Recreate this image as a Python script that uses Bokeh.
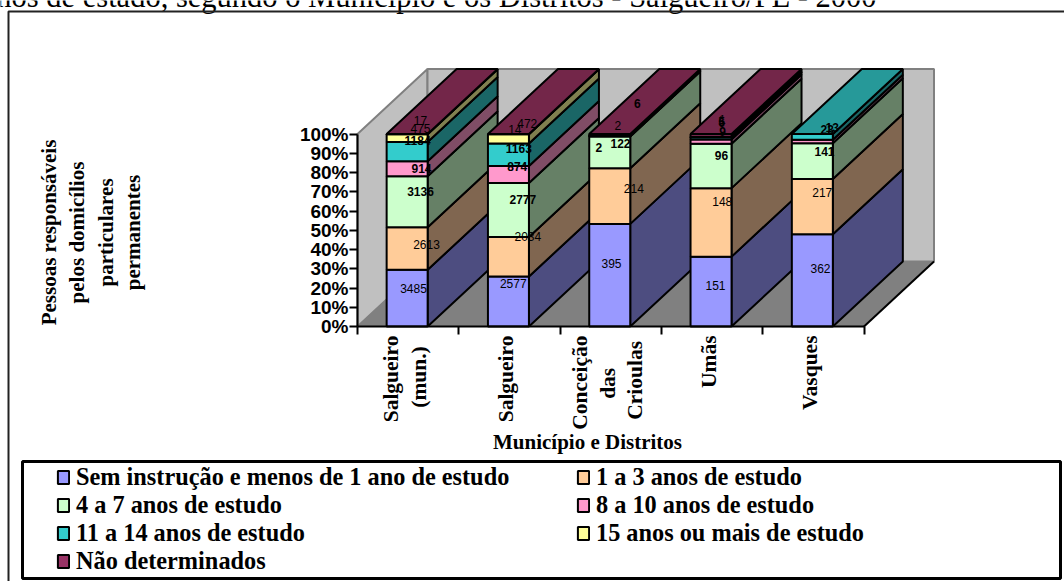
import math
from bokeh.plotting import figure
from bokeh.embed import file_html
from bokeh.resources import INLINE
from bokeh.models import (ColumnDataSource, Range1d, LinearAxis, FixedTicker, Label, Legend,
                          LegendItem, BoxAnnotation)

# ---- data
categories = ["Salgueiro\n(mun.)", "Salgueiro", "Conceição\ndas\nCrioulas", "Umãs", "Vasques"]
series_names = ["Sem instrução e menos de 1 ano de estudo", "1 a 3 anos de estudo", "4 a 7 anos de estudo",
                "8 a 10 anos de estudo", "11 a 14 anos de estudo", "15 anos ou mais de estudo", "Não determinados"]
sem_instrucao = [3485, 2577, 395, 151, 362]
anos_1_3 = [2613, 2034, 214, 148, 217]
anos_4_7 = [3136, 2777, 122, 96, 141]
anos_8_10 = [914, 874, 2, 9, 13]
anos_11_14 = [1184, 1163, 0, 5, 23]
anos_15 = [475, 472, 2, 1, 0]
nao_det = [17, 14, 6, 6, 0]
series = [sem_instrucao, anos_1_3, anos_4_7, anos_8_10, anos_11_14, anos_15, nao_det]
y_ticks = list(range(0, 101, 10))

# ---- styles
front = ["#9999FF", "#FFCC99", "#CCFFCC", "#FF99CC", "#33CCCC", "#FFFF99", "#993366"]
side = ["#4D4D80", "#806650", "#668066", "#804D66", "#1A6666", "#808050", "#4D1A33"]
top = ["#7373BF", "#BF9973", "#99BF99", "#BF7399", "#269999", "#BFBF73", "#732649"]
SERIF, SANS = "Liberation Serif", "Liberation Sans"
W, H = 1064, 581
X0, UNIT = 357.0, 101.3          # px of first tick, px per category
Y0, PCT = 326.0, 1.925           # px of 0 %, px per percent
DX, DY = 70 / UNIT, 65 / PCT     # 3-D depth in data units
BAR_W, BAR_C = 41 / UNIT, 0.49
NB = "\u00a0"

# label nudges in px from the middle of each segment (series -> bar)
nudge = [
    [(6.4, -9.6), (4.8, -17.7), (1.8, -11.4), (4.5, -6), (8.2, -11.6)],
    [(19.4, -4), (19.4, -20.5), (24.1, -7.9), (11.2, -21), (9.9, -14.6)],
    [(13.4, -10), (14.4, -10.2), (10.8, -9.3), (10.5, -10), (12.2, -9.9)],
    [(14.4, 0), (8.8, -8.3), (-10.9, 10.9), (11.5, -10.6), (19.9, -14.3)],
    [(10.4, -11), (10.4, -6.2), (0, 0), (10.5, -16.4), (14.9, -7.1)],
    [(13.4, -9.7), (18.8, -15.7), (8.1, -10.3), (11.2, -18), (0, 0)],
    [(13.4, -13.6), (6.4, -4.6), (27.5, -31), (10.5, -12.7), (0, 0)],
]

p = figure(width=W, height=H, output_backend="svg", toolbar_location=None,
           x_range=Range1d(-X0 / UNIT, (W - X0) / UNIT), y_range=Range1d((Y0 - H) / PCT, Y0 / PCT),
           x_axis_type=None, y_axis_type=None, min_border=0, outline_line_color=None,
           margin=(0, 0, 0, 0))
p.grid.visible = False
n = len(categories)

# walls and floor
p.patch([0, 0, DX, DX], [0, 100, 100 + DY, DY], fill_color="#C0C0C0", line_color="#808080", line_width=2)
p.patch([DX, DX, n + DX, n + DX], [DY, 100 + DY, 100 + DY, DY], fill_color="#C0C0C0", line_color="#808080", line_width=2)
p.patch([0, n, n + DX, DX], [0, 0, DY, DY], fill_color="#808080", line_color="#808080", line_width=1)
p.line([n, n + DX], [0, DY], line_color="black", line_width=2)

# stack in percent
totals = [sum(s[i] for s in series) for i in range(n)]
bottoms, tops = [], []
run = [0.0] * n
for s in series:
    b = list(run)
    run = [r + v / t * 100 for r, v, t in zip(run, s, totals)]
    bottoms.append(b)
    tops.append(list(run))

# sides, then tops, then fronts
for k, s in enumerate(series):
    xs, ys = [], []
    for i in range(n):
        if s[i] > 0:
            r = i + BAR_C + BAR_W / 2
            xs.append([r, r + DX, r + DX, r])
            ys.append([bottoms[k][i], bottoms[k][i] + DY, tops[k][i] + DY, tops[k][i]])
    p.patches(xs, ys, fill_color=side[k], line_color="black", line_width=2)
for k, s in enumerate(series):
    xs, ys = [], []
    for i in range(n):
        if s[i] > 0 and all(series[m][i] == 0 for m in range(k + 1, len(series))):
            l, r = i + BAR_C - BAR_W / 2, i + BAR_C + BAR_W / 2
            xs.append([l, r, r + DX, l + DX])
            ys.append([100, 100, 100 + DY, 100 + DY])
    if xs:
        p.patches(xs, ys, fill_color=top[k], line_color="black", line_width=2)
legend_items = []
for k, s in enumerate(series):
    idx = [i for i in range(n) if s[i] > 0]
    src = ColumnDataSource(dict(l=[i + BAR_C - BAR_W / 2 for i in idx], r=[i + BAR_C + BAR_W / 2 for i in idx],
                                b=[bottoms[k][i] for i in idx], t=[tops[k][i] for i in idx]))
    rr = p.quad(left="l", right="r", bottom="b", top="t", source=src, fill_color=front[k], line_color="black", line_width=2)
    legend_items.append(LegendItem(label=series_names[k], renderers=[rr]))

# data labels
bold_series = {2, 3, 4}
for style in ("normal", "bold"):
    xs, ys, txt, ox, oy = [], [], [], [], []
    for k, s in enumerate(series):
        for i in range(n):
            if s[i] > 0 and ((k in bold_series or (k == 6 and i == 2)) == (style == "bold")):
                xs.append(i + BAR_C)
                ys.append((bottoms[k][i] + tops[k][i]) / 2)
                txt.append(str(s[i]))
                ox.append(nudge[k][i][0])
                oy.append(nudge[k][i][1])
    p.text(xs, ys, text=txt, x_offset=ox, y_offset=oy, text_align="center", text_baseline="middle",
           text_font={"value": SANS}, text_font_size="12px", text_font_style=style, text_color="black")

# axes
ya = LinearAxis(ticker=FixedTicker(ticks=y_ticks), fixed_location=0, bounds=(0, 100))
ya.major_label_overrides = {t: f"{t}%" for t in y_ticks}
ya.major_label_text_font = SANS
ya.major_label_text_font_style = "bold"
ya.major_label_text_font_size = "19px"
ya.major_label_text_color = "black"
ya.major_label_standoff = 1
ya.major_tick_out = 8
ya.major_tick_in = 0
ya.minor_tick_line_color = None
ya.axis_line_width = 2
ya.major_tick_line_width = 2
ya.axis_line_color = ya.major_tick_line_color = "black"
p.add_layout(ya, "left")

# shorter lines of a rotated label are padded so that they sit centred on the longest one
tick_text = [c for c in categories]
tick_text[0] = tick_text[0].replace("(mun.)", "(mun.)" + NB * 2)
tick_text[2] = tick_text[2].replace("das", "das" + NB * 6).replace("Crioulas", "Crioulas" + NB)
label_pos = [i + 0.47 for i in range(n)]
xa = LinearAxis(ticker=FixedTicker(ticks=label_pos, minor_ticks=list(range(n + 1))),
                fixed_location=0, bounds=(0, n))
xa.major_label_overrides = {t: c for t, c in zip(label_pos, tick_text)}
xa.major_label_orientation = math.pi / 2
xa.major_label_text_font = SERIF
xa.major_label_text_font_style = "bold"
xa.major_label_text_font_size = "21.5px"
xa.major_label_text_color = "black"
xa.major_label_text_line_height = 1.15
xa.major_label_standoff = 1
xa.major_tick_line_color = None
xa.minor_tick_out = 8
xa.minor_tick_in = 0
xa.minor_tick_line_width = 2
xa.minor_tick_line_color = "black"
xa.axis_line_width = 2
xa.axis_line_color = "black"
p.add_layout(xa, "below")

def screen_label(text, x, y_from_top, size, style="bold", angle=0, align="center", baseline="middle"):
    p.add_layout(Label(x=x, y=H - y_from_top, x_units="screen", y_units="screen", text=text, angle=angle,
                       text_font=SERIF, text_font_size=size, text_font_style=style, text_color="black",
                       text_align=align, text_baseline=baseline))

# title, axis titles
screen_label("anos de estado, segundo o Município e os Distritos - Salgueiro/PE - 2000", 876, -4, "30.5px", "normal",
             align="right", baseline="alphabetic")
for t, xp in zip(["Pessoas responsáveis", "pelos domicílios", "particulares", "permanentes"], [48, 76, 105, 132]):
    screen_label(t, xp, 232, "21px", angle=math.pi / 2)
screen_label("Município e Distritos", 587, 441, "21px")

# outer frame lines
p.add_layout(BoxAnnotation(left=8, right=W + 20, top=H - 11, bottom=-20, left_units="screen", right_units="screen",
                           top_units="screen", bottom_units="screen", fill_alpha=0, line_color="#222222",
                           line_alpha=1, line_width=2))
# legend box and legend
p.add_layout(BoxAnnotation(left=22, right=1060, top=H - 461, bottom=H - 578, left_units="screen", right_units="screen",
                           top_units="screen", bottom_units="screen", fill_color="white", fill_alpha=1,
                           line_color="black", line_alpha=1, line_width=3))
lg = Legend(items=legend_items, ncols=2, orientation="horizontal", location=(56, 6), border_line_color=None,
            background_fill_alpha=0, padding=0, margin=0, spacing=-2, glyph_width=14, glyph_height=16,
            label_standoff=6, label_text_font=SERIF, label_text_font_style="bold", label_text_font_size="24.3px",
            label_text_color="black", label_width=500, label_height=20)
p.add_layout(lg, "center")

open("out.html", "w").write(file_html(p, INLINE))
